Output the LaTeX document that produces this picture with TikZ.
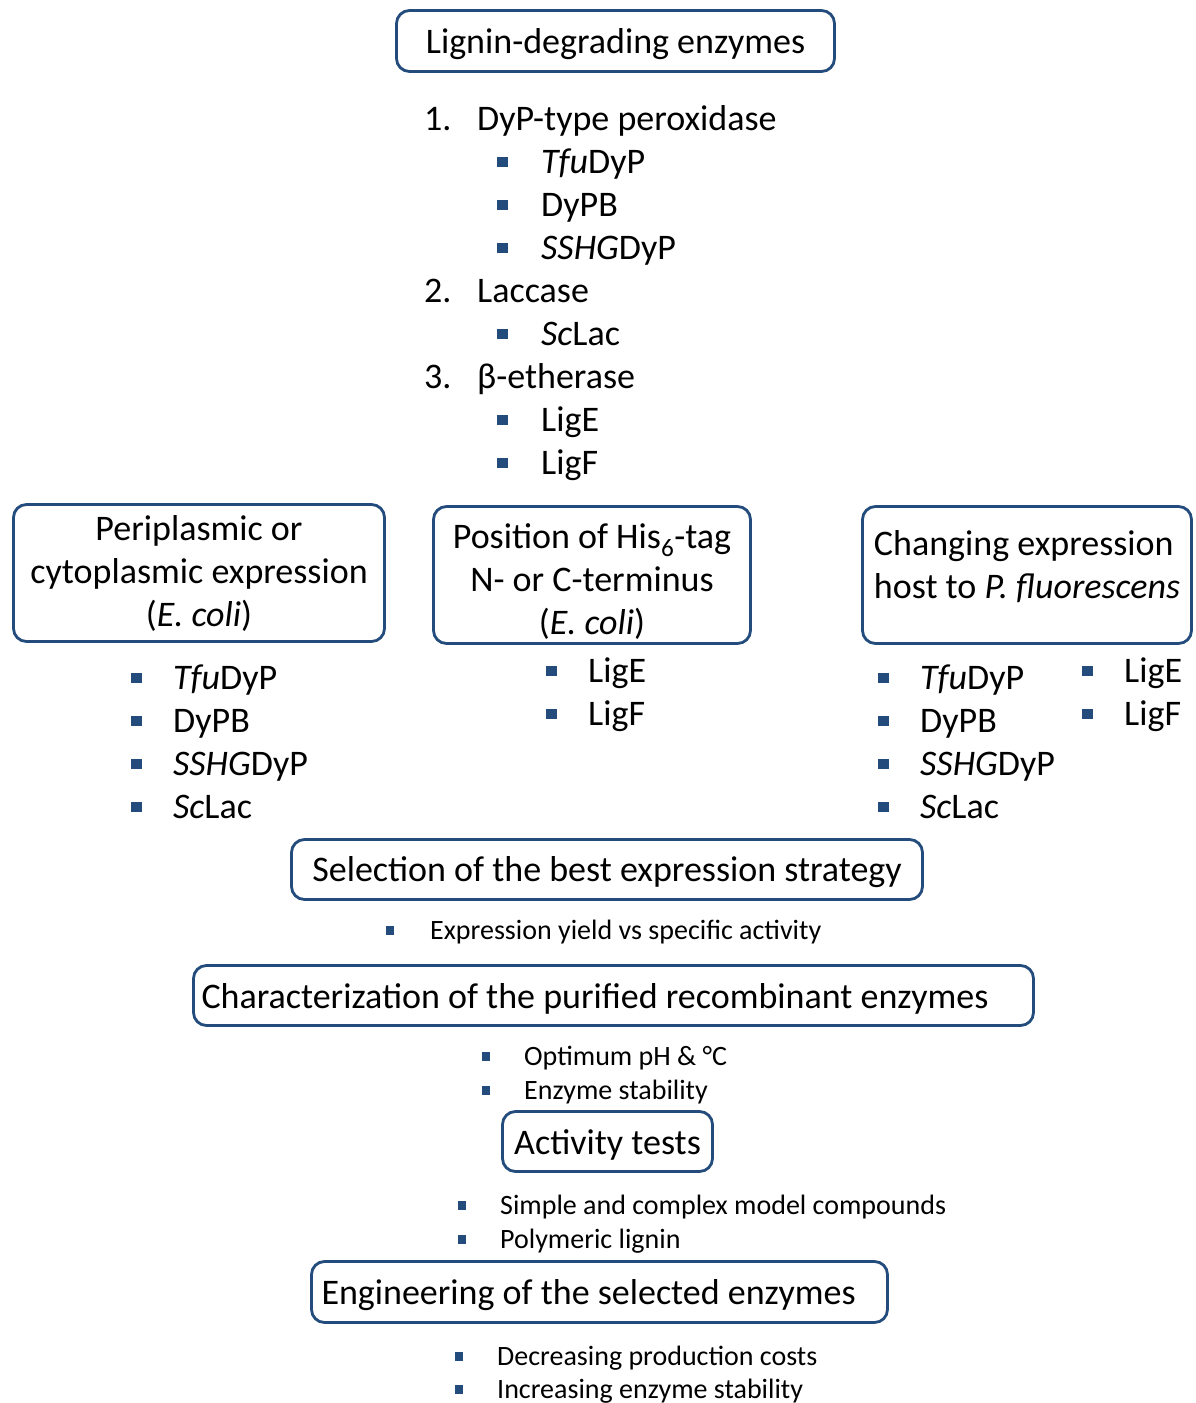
\documentclass[tikz,border=0pt]{standalone}
\usepackage{fontspec}
\setmainfont{Carlito}
\usepackage{xcolor}
\usepackage{tikz}

\definecolor{edge}{RGB}{35,76,124}
\newcommand{\bigtxt}{\fontsize{36}{43}\selectfont}
\newcommand{\smalltxt}{\fontsize{28}{34}\selectfont}
\newcommand{\sq}[1][42pt]{\makebox[#1][l]{\textcolor{edge}{\rule[0.16em]{0.29em}{0.29em}}}}
\newcommand{\lnum}[1]{\makebox[53pt][l]{#1}}

\begin{document}
\begin{tikzpicture}[
    x=1pt, y=-1pt,
    box/.style={draw=edge, line width=2.8pt, rounded corners=13pt, inner sep=0pt, align=center, font=\bigtxt},
    onebox/.style={box, text height=31pt},
    item/.style={anchor=base west, inner sep=0pt, font=\bigtxt},
    note/.style={anchor=base west, inner sep=0pt, font=\smalltxt},
]
\useasboundingbox (0,0) rectangle (1195,1403);

% Boxes
\node[onebox, minimum width=438, minimum height=61] (lignin) at (615.5,41) {Lignin-degrading enzymes};
\node[box, minimum width=371, minimum height=137] (peri) at (199,573) {Periplasmic or\\cytoplasmic expression\\(\textit{E. coli})};
\node[box, minimum width=317, minimum height=137] (hist) at (592,575) {\rule{0pt}{38pt}Position of His\textsubscript{6}-tag\\N- or C-terminus\\(\textit{E. coli})};
\node[box, align=left, minimum width=329, minimum height=137] (host) at (1027,575) {Changing expression\\host to \textit{P. fluorescens}\rule[-22pt]{0pt}{1pt}};
\node[onebox, minimum width=631, minimum height=60] (select) at (607,869.5) {Selection of the best expression strategy};
\node[onebox, minimum width=840, minimum height=60] (charac) at (613.5,995.5) {\makebox[824pt][l]{Characterization of the purified recombinant enzymes}};
\node[onebox, minimum width=210, minimum height=60] (activity) at (607.5,1141.5) {Activity tests};
\node[onebox, minimum width=576, minimum height=61] (engin) at (599.5,1292) {\makebox[556pt][l]{Engineering of the selected enzymes}};

% Enzyme list
\node[item] (deg1) at (424,130) {\lnum{1.}DyP-type peroxidase};
\node[item] (deg1a) at (497,173) {\sq[44pt]\textit{Tfu}DyP};
\node[item] (deg1b) at (497,216) {\sq[44pt]DyPB};
\node[item] (deg1c) at (497,259) {\sq[44pt]\textit{SSHG}DyP};
\node[item] (deg2) at (424,302) {\lnum{2.}Laccase};
\node[item] (deg2a) at (497,345) {\sq[44pt]\textit{Sc}Lac};
\node[item] (deg3) at (424,388) {\lnum{3.}β-etherase};
\node[item] (deg3a) at (497,431) {\sq[44pt]LigE};
\node[item] (deg3b) at (497,474) {\sq[44pt]LigF};

% Expression lists
\node[item] (peri1) at (131,689) {\sq\textit{Tfu}DyP};
\node[item] (peri2) at (131,732) {\sq DyPB};
\node[item] (peri3) at (131,775) {\sq\textit{SSHG}DyP};
\node[item] (peri4) at (131,818) {\sq\textit{Sc}Lac};

\node[item] (hist1) at (546,682) {\sq LigE};
\node[item] (hist2) at (546,725) {\sq LigF};

\node[item] (host1) at (878,689) {\sq\textit{Tfu}DyP};
\node[item] (host2) at (878,732) {\sq DyPB};
\node[item] (host3) at (878,775) {\sq\textit{SSHG}DyP};
\node[item] (host4) at (878,818) {\sq\textit{Sc}Lac};
\node[item] (host5) at (1082,682) {\sq LigE};
\node[item] (host6) at (1082,725) {\sq LigF};

% Notes under the steps
\node[note] (select1) at (386,939) {\sq[44pt]Expression yield vs specific activity};
\node[note] (charac1) at (482,1065) {\sq Optimum pH \& °C};
\node[note] (charac2) at (482,1099) {\sq Enzyme stability};
\node[note] (activity1) at (458,1214) {\sq Simple and complex model compounds};
\node[note] (activity2) at (458,1248) {\sq Polymeric lignin};
\node[note] (engin1) at (455,1365) {\sq Decreasing production costs};
\node[note] (engin2) at (455,1398) {\sq Increasing enzyme stability};

\end{tikzpicture}
\end{document}
